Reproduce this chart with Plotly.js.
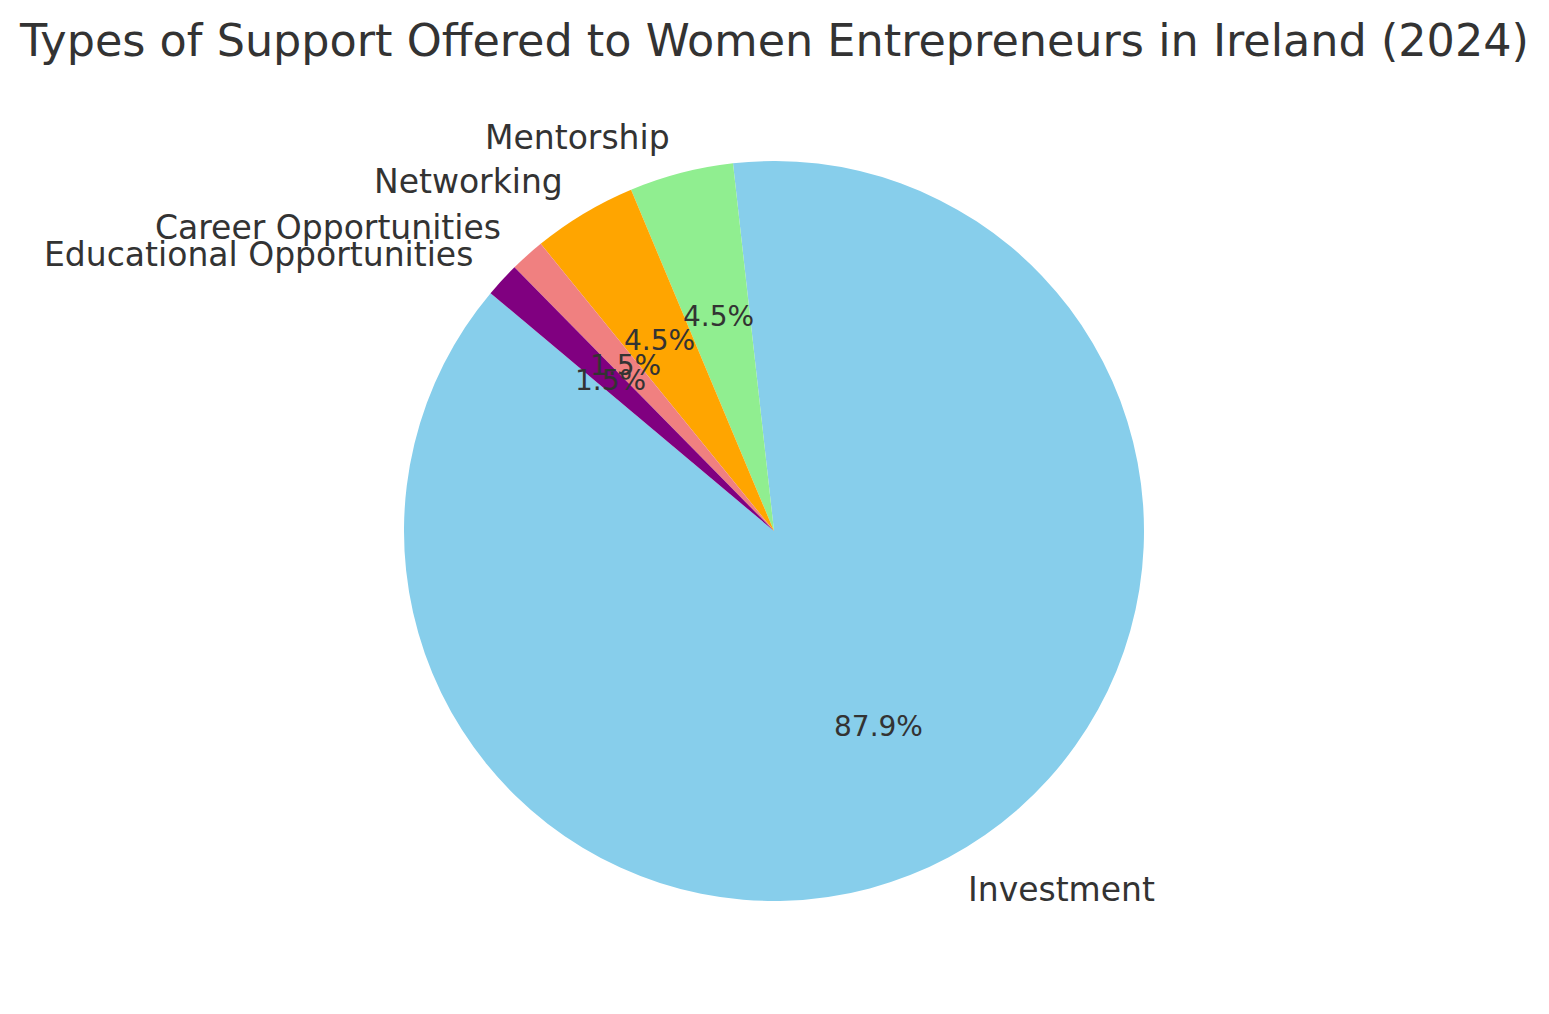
<!DOCTYPE html>
<html>
<head>
<meta charset="utf-8">
<script src="https://cdn.plot.ly/plotly-3.0.1.min.js"></script>
<style>html,body{margin:0;padding:0;background:#fff;}#chart{width:1549px;height:1014px;}</style>
</head>
<body>
<div id="chart"></div>
<script>
// Data
const categories = ["Investment", "Mentorship", "Networking", "Career Opportunities", "Educational Opportunities"];
const values = [58, 3, 3, 1, 1];
const colors = ["skyblue", "lightgreen", "orange", "lightcoral", "purple"];
const chartTitle = "Types of Support Offered to Women Entrepreneurs in Ireland (2024)";

// Layout constants
const W = 1549, H = 1014;
const cx = 774, cy = 531, r = 370;
const startAngle = 140; // degrees, counterclockwise from 3 o'clock
const textColor = "#333333";
const font = "DejaVu Sans, Verdana, sans-serif";

const total = values.reduce((a, b) => a + b, 0);
const annotations = [];
let cum = 0;
values.forEach((v, i) => {
  const mid = (startAngle + 360 * (cum + v / 2) / total) * Math.PI / 180;
  cum += v;
  const c = Math.cos(mid), s = Math.sin(mid);
  annotations.push({
    xref: "paper", yref: "paper",
    x: (cx + 1.1 * r * c) / W, y: 1 - (cy - 1.1 * r * s) / H,
    text: categories[i], showarrow: false,
    xanchor: c < 0 ? "right" : "left", yanchor: "middle",
    font: {family: font, size: 33, color: textColor}
  });
  annotations.push({
    xref: "paper", yref: "paper",
    x: (cx + 0.6 * r * c) / W, y: 1 - (cy - 0.6 * r * s) / H,
    text: (100 * v / total).toFixed(1) + "%", showarrow: false,
    xanchor: "center", yanchor: "middle",
    font: {family: font, size: 28, color: textColor}
  });
});

// Plotly (counterclockwise) uses rotation as the end of the first slice,
// measured clockwise from 12 o'clock.
let rot = 90 - (startAngle + 360 * values[0] / total);
while (rot < -360) rot += 360;
while (rot > 360) rot -= 360;

const trace = {
  type: "pie",
  labels: categories,
  values: values,
  sort: false,
  direction: "counterclockwise",
  rotation: rot,
  marker: {colors: colors, line: {width: 0}},
  textinfo: "none",
  hoverinfo: "label+percent",
  domain: {x: [(cx - r) / W, (cx + r) / W], y: [1 - (cy + r) / H, 1 - (cy - r) / H]}
};

const layout = {
  width: W, height: H,
  margin: {l: 0, r: 0, t: 0, b: 0},
  paper_bgcolor: "#ffffff",
  showlegend: false,
  title: {
    text: chartTitle,
    x: 0.5, xanchor: "center",
    y: 1 - 40 / H, yanchor: "middle", yref: "container",
    font: {family: font, size: 44.5, color: textColor}
  },
  annotations: annotations
};

Plotly.newPlot("chart", [trace], layout, {displayModeBar: false, staticPlot: true});
</script>
</body>
</html>
